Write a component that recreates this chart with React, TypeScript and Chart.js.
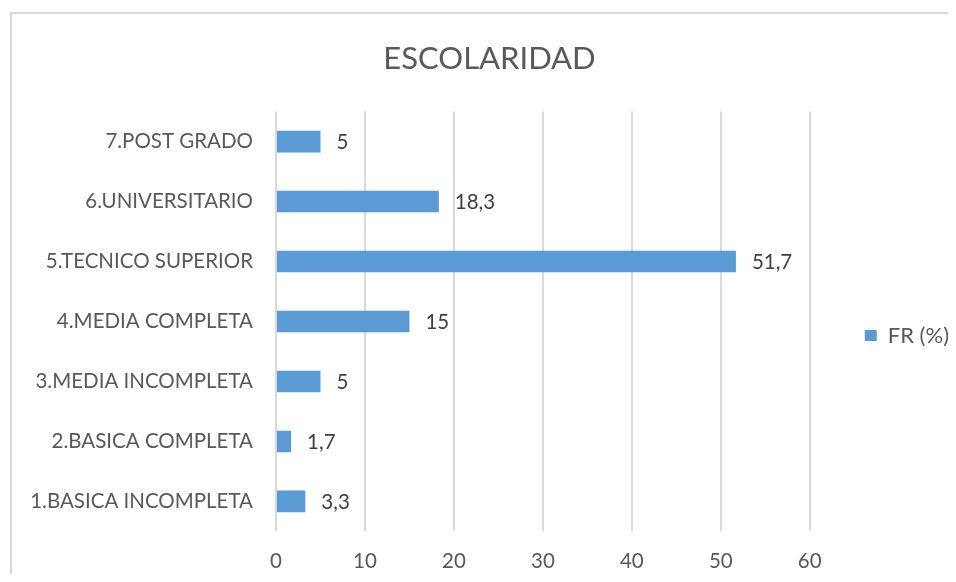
import React, { useEffect, useRef } from "react";
import { Chart, registerables } from "chart.js";

Chart.register(...registerables);

const titleText = "ESCOLARIDAD";
const categories = [
  "1.BASICA INCOMPLETA",
  "2.BASICA COMPLETA",
  "3.MEDIA INCOMPLETA",
  "4.MEDIA COMPLETA",
  "5.TECNICO SUPERIOR",
  "6.UNIVERSITARIO",
  "7.POST GRADO",
];
const seriesName = "FR (%)";
const values = [3.3, 1.7, 5, 15, 51.7, 18.3, 5];
const xMin = 0;
const xMax = 60;
const xStep = 10;

const FONT = "Lato, 'Open Sans', sans-serif";
const TEXT = "#595959";
const GRID = "#D9D9D9";
const BAR = "#5B9BD5";
const FS = 20.5;

const fmt = (v: number) => String(v).replace(".", ",");

const valueLabels = {
  id: "valueLabels",
  afterDatasetsDraw(chart: any) {
    const { ctx } = chart;
    ctx.save();
    ctx.font = `${FS}px ${FONT}`;
    ctx.fillStyle = "#404040";
    ctx.textAlign = "left";
    ctx.textBaseline = "middle";
    chart.data.datasets.forEach((ds: any, di: number) => {
      const meta = chart.getDatasetMeta(di);
      meta.data.forEach((el: any, i: number) => {
        ctx.fillText(fmt(ds.data[i]), el.x + 16, el.y + 1);
      });
    });
    ctx.restore();
  },
};

export default function App() {
  const ref = useRef<HTMLCanvasElement | null>(null);
  useEffect(() => {
    if (!ref.current) return;
    const chart = new Chart(ref.current, {
      type: "bar",
      data: {
        labels: categories,
        datasets: [
          {
            label: seriesName,
            data: values,
            backgroundColor: BAR,
            borderWidth: 0,
            categoryPercentage: 1,
            barPercentage: 0.36,
          },
        ],
      },
      options: {
        indexAxis: "y",
        animation: false,
        responsive: true,
        maintainAspectRatio: false,
        layout: { padding: { left: 12, right: -11, top: 0, bottom: -18 } },
        plugins: {
          title: {
            display: true,
            text: titleText,
            color: TEXT,
            font: { family: FONT, size: 31, weight: "normal", lineHeight: 1.2 },
            padding: { top: 32, bottom: 34.4 },
          },
          legend: {
            display: true,
            position: "right",
            title: {
              display: true,
              text: " ",
              font: { size: 1 },
              padding: { top: 70, bottom: 0 },
            },
            labels: {
              color: TEXT,
              font: { family: FONT, size: 22 },
              boxWidth: 12,
              boxHeight: 11,
              padding: 55,
            },
          },
          tooltip: { enabled: false },
        },
        scales: {
          x: {
            min: xMin,
            max: xMax,
            ticks: { stepSize: xStep, color: TEXT, font: { family: FONT, size: FS }, padding: 18 },
            grid: { color: GRID, lineWidth: 2, drawTicks: false },
            border: { display: false },
          },
          y: {
            reverse: true,
            ticks: { color: TEXT, font: { family: FONT, size: FS }, padding: 15 },
            grid: { display: false },
            border: { display: false },
            afterFit(scale: any) {
              scale.width = 256;
            },
          },
        },
      },
      plugins: [valueLabels],
    });
    return () => chart.destroy();
  }, []);
  return (
    <div style={{ width: 940, height: 566, position: "relative" }}>
      <div
        style={{
          position: "absolute",
          left: 2,
          top: 4,
          right: 0,
          bottom: 0,
          borderLeft: `2px solid ${GRID}`,
          borderTop: `2px solid ${GRID}`,
          pointerEvents: "none",
        }}
      />
      <canvas ref={ref} />
    </div>
  );
}
